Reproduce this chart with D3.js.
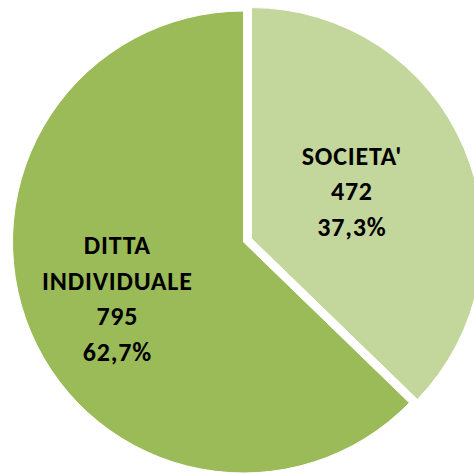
<!DOCTYPE html>
<html>
<head>
<meta charset="utf-8">
<script src="https://cdn.jsdelivr.net/npm/d3@7"></script>
<style>
  body { margin: 0; background: #fff; }
  svg { display: block; }
</style>
</head>
<body>
<svg width="474" height="474"></svg>
<script>
  // Chart data
  const categories = ["SOCIETA'", "DITTA INDIVIDUALE"];
  const labelLines = [["SOCIETA'"], ["DITTA", "INDIVIDUALE"]];
  const values = [472, 795];
  const percentLabels = ["37,3%", "62,7%"];
  const colors = ["#c3d69b", "#9bbb59"];

  const svg = d3.select("svg");
  const radius = 231;
  const cx = 243.5, cy = 242;
  const explode = [8.7, 0];       // small slice pulled out a bit
  const labelPos = [0.47, 0.595]; // label distance as fraction of radius
  const labelNudge = [-5, 3];     // small vertical correction of label block

  const pie = d3.pie().sort(null).value(d => d);
  const arcs = pie(values);
  const arc = d3.arc().innerRadius(0).outerRadius(radius);

  const g = svg.append("g").attr("transform", `translate(${cx},${cy})`);

  const slice = g.selectAll(".slice")
    .data(arcs)
    .enter().append("g")
    .attr("class", "slice")
    .attr("transform", (d, i) => {
      const a = (d.startAngle + d.endAngle) / 2;
      return `translate(${Math.sin(a) * explode[i]},${-Math.cos(a) * explode[i]})`;
    });

  slice.append("path")
    .attr("d", arc)
    .attr("fill", (d, i) => colors[i])
    .attr("stroke", "#fff")
    .attr("stroke-width", 1);

  // Labels: name lines, value, percent
  const lineH = 35.5;
  slice.each(function(d, i) {
    const a = (d.startAngle + d.endAngle) / 2;
    const r = radius * labelPos[i];
    const x = Math.sin(a) * r, y = -Math.cos(a) * r + labelNudge[i];
    const lines = labelLines[i].concat([String(values[i]), percentLabels[i]]);
    const t = d3.select(this).append("text")
      .attr("text-anchor", "middle")
      .attr("font-family", "Carlito, Calibri, Lato, sans-serif")
      .attr("font-weight", "bold")
      .attr("font-size", 26)
      .attr("letter-spacing", 0.8)
      .attr("fill", "#000");
    const y0 = y - (lines.length - 1) * lineH / 2 + 9;
    lines.forEach((s, k) => {
      t.append("tspan").attr("x", x + 0.4).attr("y", y0 + k * lineH).text(s);
    });
  });
</script>
</body>
</html>
